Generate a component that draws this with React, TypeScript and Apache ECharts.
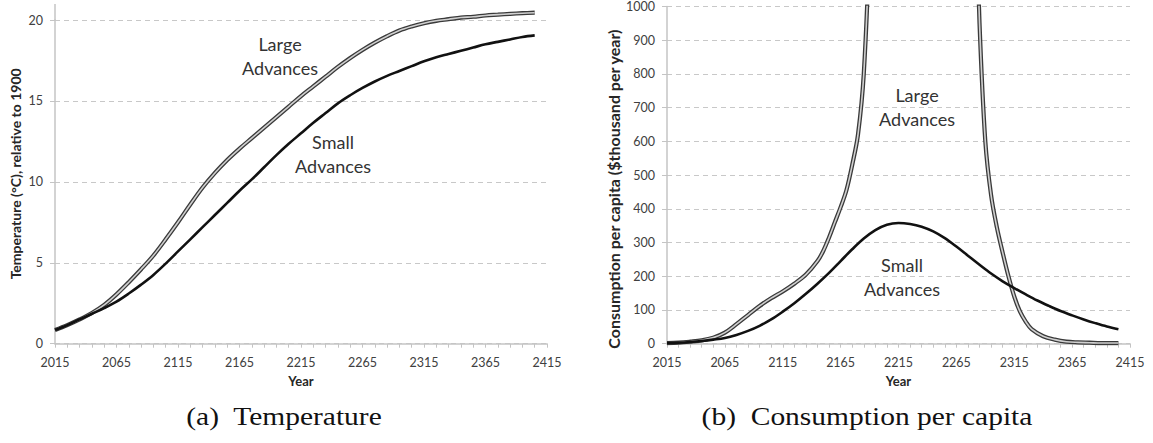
import React, { useEffect, useRef } from "react";
import * as echarts from "echarts";

const BASE_YEAR = 2015;
const xTickLabels = [2015, 2065, 2115, 2165, 2215, 2265, 2315, 2365, 2415];
const tempTicks = [0, 5, 10, 15, 20];
const consTicks = [0, 100, 200, 300, 400, 500, 600, 700, 800, 900, 1000];

const tempYears = [2015, 2025, 2035, 2045, 2055, 2065, 2075, 2085, 2095, 2105, 2115, 2125, 2135, 2145, 2155, 2165, 2175, 2185, 2195, 2205, 2215, 2225, 2235, 2245, 2255, 2265, 2275, 2285, 2295, 2305, 2315, 2325, 2335, 2345, 2355, 2365, 2375, 2385, 2395, 2405];
const tempSmall = [0.85, 1.15, 1.5, 1.85, 2.2, 2.6, 3.1, 3.65, 4.25, 4.95, 5.7, 6.45, 7.2, 7.95, 8.7, 9.45, 10.15, 10.9, 11.65, 12.35, 13.0, 13.65, 14.25, 14.85, 15.35, 15.8, 16.2, 16.55, 16.85, 17.15, 17.45, 17.7, 17.9, 18.1, 18.3, 18.5, 18.65, 18.8, 18.95, 19.05];
const tempLarge = [0.85, 1.15, 1.5, 1.9, 2.4, 3.05, 3.8, 4.6, 5.45, 6.45, 7.5, 8.6, 9.65, 10.55, 11.35, 12.05, 12.7, 13.35, 14.0, 14.65, 15.3, 15.9, 16.5, 17.1, 17.65, 18.15, 18.6, 19.0, 19.35, 19.6, 19.8, 19.95, 20.05, 20.15, 20.2, 20.28, 20.33, 20.38, 20.42, 20.45];

const consSmallYears = tempYears;
const consSmall = [2, 3, 5, 8, 12, 17, 26, 38, 53, 72, 95, 120, 148, 178, 210, 245, 280, 312, 337, 353, 358, 355, 347, 333, 313, 288, 261, 234, 208, 185, 165, 146, 128, 112, 97, 84, 72, 61, 51, 43];
const consLargeYears = [2015, 2025, 2035, 2045, 2055, 2065, 2075, 2085, 2095, 2105, 2115, 2125, 2135, 2145, 2150, 2155, 2160, 2165, 2170, 2175, 2180, 2185, 2190, 2200, 2215, 2240, 2265, 2275, 2280, 2285, 2290, 2295, 2300, 2305, 2310, 2315, 2320, 2325, 2330, 2340, 2350, 2360, 2370, 2380, 2390, 2405];
const consLarge = [2, 3, 6, 10, 18, 33, 58, 85, 112, 135, 155, 178, 205, 245, 275, 315, 360, 405, 455, 530, 620, 800, 1200, 2400, 3000, 3200, 2800, 2000, 1500, 950, 600, 440, 345, 270, 200, 140, 95, 65, 43, 22, 12, 6, 4, 3, 2, 2];

const FONT = "Lato";
const AXIS_GRAY = "#c4c4c4";
const LABEL_COLOR = "#404040";
const TITLE_COLOR = "#262626";

const pairs = (years: number[], vals: number[]) => years.map((y, i) => [y - BASE_YEAR, vals[i]]);

function xAxis(gridIndex: number) {
  return {
    type: "value",
    gridIndex,
    min: xTickLabels[0] - BASE_YEAR,
    max: xTickLabels[xTickLabels.length - 1] - BASE_YEAR,
    interval: xTickLabels[1] - xTickLabels[0],
    axisLine: { show: true, lineStyle: { color: AXIS_GRAY, width: 1.5 } },
    axisTick: { show: true, length: 4, lineStyle: { color: AXIS_GRAY, width: 1 } },
    minorTick: { show: true, splitNumber: 5, length: 4, lineStyle: { color: AXIS_GRAY, width: 1 } },
    splitLine: { show: false },
    axisLabel: {
      formatter: (v: number) => String(v + BASE_YEAR),
      color: LABEL_COLOR,
      fontFamily: FONT,
      fontSize: 12.5,
      margin: 12,
    },
    name: "Year",
    nameLocation: "middle",
    nameGap: 31,
    nameTextStyle: { fontFamily: FONT, fontWeight: "bold", fontSize: 13, color: TITLE_COLOR },
  };
}

function yAxis(gridIndex: number, ticks: number[], name: string, nameGap: number, fontSize: number, padding: number[]) {
  return {
    type: "value",
    gridIndex,
    min: ticks[0],
    max: ticks[ticks.length - 1],
    interval: ticks[1] - ticks[0],
    axisLine: { show: true, lineStyle: { color: AXIS_GRAY, width: 1.5 } },
    axisTick: { show: true, length: 5, lineStyle: { color: AXIS_GRAY, width: 1 } },
    splitLine: { show: true, lineStyle: { color: "#c8c8c8", width: 1.2, type: [5, 4] } },
    axisLabel: { color: LABEL_COLOR, fontFamily: FONT, fontSize: 12.5, margin: 12, formatter: (v: number) => String(v) },
    name,
    nameLocation: "middle",
    nameRotate: 90,
    nameGap,
    nameTextStyle: { fontFamily: FONT, fontWeight: "bold", fontSize, color: TITLE_COLOR, padding },
  };
}

function doubleLine(idx: number, data: number[][], name: string, clip: boolean) {
  return [
    {
      type: "line", name: name + " outer", xAxisIndex: idx, yAxisIndex: idx, data, clip,
      showSymbol: false, smooth: 0.35, silent: true,
      lineStyle: { color: "#3a3a3a", width: 4.2 },
    },
    {
      type: "line", name: name + " inner", xAxisIndex: idx, yAxisIndex: idx, data, clip,
      showSymbol: false, smooth: 0.35, silent: true,
      lineStyle: { color: "#d0d0d0", width: 1.6 },
    },
  ];
}

function singleLine(idx: number, data: number[][], name: string) {
  return {
    type: "line", name, xAxisIndex: idx, yAxisIndex: idx, data,
    showSymbol: false, smooth: 0.35, silent: true,
    lineStyle: { color: "#111111", width: 2.6 },
  };
}

function label(text: string, x: number, y: number) {
  return {
    type: "text",
    x, y,
    style: {
      text, fill: "#333333", fontFamily: FONT, fontSize: 18, lineHeight: 24,
      align: "center", verticalAlign: "middle",
    },
  };
}

function caption(text: string, x: number, y: number) {
  return {
    type: "text",
    x, y,
    scaleX: 1.18,
    style: {
      text, fill: "#111111", fontFamily: "Liberation Serif", fontSize: 25,
      align: "center", verticalAlign: "middle",
    },
  };
}

export default function App() {
  const ref = useRef<HTMLDivElement>(null);
  useEffect(() => {
    if (!ref.current) return;
    const chart = echarts.init(ref.current, null, { renderer: "svg" });
    const option = {
      animation: false,
      backgroundColor: "#ffffff",
      grid: [
        { left: 55, top: 20, width: 492, height: 323.7 },
        { left: 667, top: 4.5, width: 463, height: 339.2 },
      ],
      xAxis: [xAxis(0), xAxis(1)],
      yAxis: [
        yAxis(0, tempTicks, "Temperature (°C), relative to 1900", 33, 14, [0, 0, 0, 16]),
        yAxis(1, consTicks, "Consumption per capita ($thousand per year)", 46, 16, [0, 28, 0, 0]),
      ],
      series: [
        ...doubleLine(0, pairs(tempYears, tempLarge), "Temperature Large Advances", false),
        singleLine(0, pairs(tempYears, tempSmall), "Temperature Small Advances"),
        ...doubleLine(1, pairs(consLargeYears, consLarge), "Consumption Large Advances", true),
        singleLine(1, pairs(consSmallYears, consSmall), "Consumption Small Advances"),
      ],
      graphic: [
        { type: "line", shape: { x1: 55, y1: 4, x2: 55, y2: 20 }, style: { stroke: AXIS_GRAY, lineWidth: 1.5 } },
        label("Large\nAdvances", 280, 55.5),
        label("Small\nAdvances", 333, 153.5),
        label("Large\nAdvances", 917, 106.5),
        label("Small\nAdvances", 902, 277),
        caption("(a)  Temperature", 284, 417),
        caption("(b)  Consumption per capita", 867, 417),
      ],
    };
    chart.setOption(option as any);
    return () => chart.dispose();
  }, []);
  return (
    <div
      ref={ref}
      style={{ position: "absolute", left: 0, top: 0, width: 1153, height: 443, background: "#fff" }}
    />
  );
}
